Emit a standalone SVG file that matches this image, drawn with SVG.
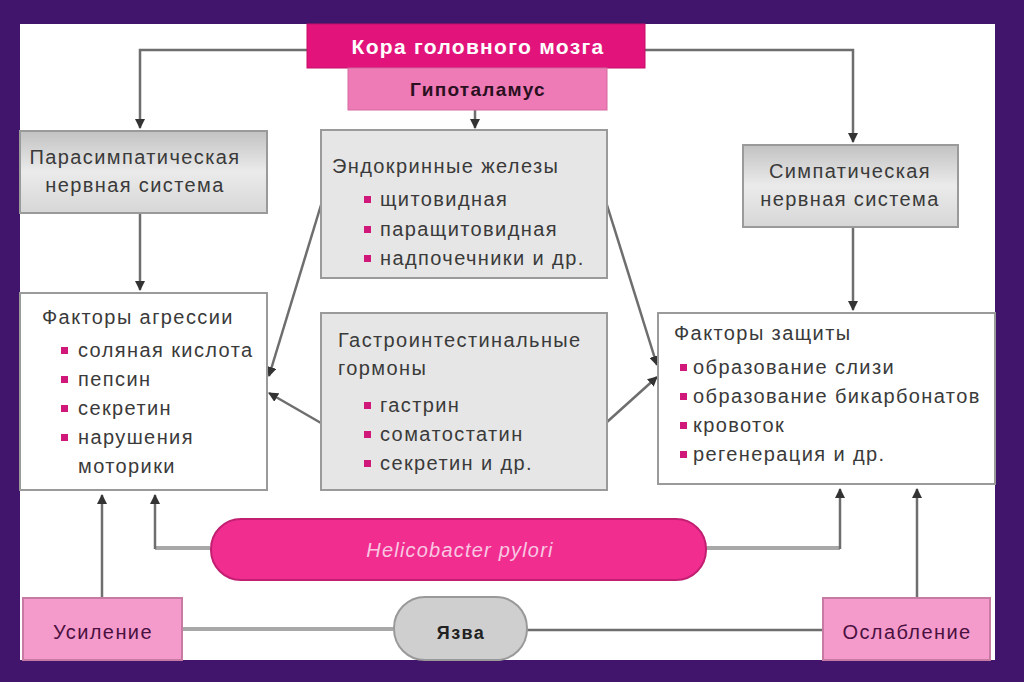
<svg xmlns="http://www.w3.org/2000/svg" width="1024" height="682" viewBox="0 0 1024 682">
<defs>
<style>
.t{font-family:"Liberation Sans",Arial,sans-serif;font-size:20px;letter-spacing:1.4px;fill:#3a3a3a}
.c{text-anchor:middle}
.bul{fill:#d0177a}
.box{stroke:#9a9a9a;stroke-width:2}
.ln{fill:none;stroke:#6e6e6e;stroke-width:2.5}
.lg{fill:none;stroke:#a8a8a8;stroke-width:4}
</style>
<linearGradient id="gr" x1="0" y1="0" x2="0" y2="1">
<stop offset="0" stop-color="#c2c2c2"/>
<stop offset="0.5" stop-color="#ebebeb"/>
<stop offset="1" stop-color="#d6d6d6"/>
</linearGradient>
<marker id="ar" viewBox="0 0 10 10" refX="9" refY="5" markerWidth="4" markerHeight="4" orient="auto-start-reverse">
<path d="M0,0 L10,5 L0,10 z" fill="#333"/>
</marker>
</defs>
<rect x="0" y="0" width="1024" height="682" fill="#42156c"/>
<rect x="20" y="24" width="975" height="636" fill="#ffffff"/>

<g id="connectors">
<path class="ln" d="M307,50 H140 V128" marker-end="url(#ar)"/>
<path class="ln" d="M645,50 H853 V142" marker-end="url(#ar)"/>
<path class="ln" d="M475,110 V128" marker-end="url(#ar)"/>
<path class="ln" d="M140,213 V290" marker-end="url(#ar)"/>
<path class="ln" d="M853,227 V310" marker-end="url(#ar)"/>
<path class="ln" d="M321,205 L269,376" marker-end="url(#ar)"/>
<path class="ln" d="M607,205 L657,365" marker-end="url(#ar)"/>
<path class="ln" d="M321,423 L269,393" marker-end="url(#ar)"/>
<path class="ln" d="M607,422 L657,377" marker-end="url(#ar)"/>
<path class="lg" d="M210,548 H155"/>
<path class="ln" d="M155,549 V495" marker-end="url(#ar)"/>
<path class="lg" d="M706,548 H840"/>
<path class="ln" d="M840,549 V489" marker-end="url(#ar)"/>
<path class="ln" d="M102,598 V495" marker-end="url(#ar)"/>
<path class="ln" d="M917,598 V489" marker-end="url(#ar)"/>
<path class="lg" d="M182,629 H393"/>
<path class="ln" d="M527,630 H823"/>
</g>

<g id="kora">
<rect x="307" y="24" width="338" height="44" fill="#e2147c" stroke="#c40f68" stroke-width="1"/>
<text class="t c" x="478" y="54" style="fill:#fff;font-weight:bold;font-size:21px;letter-spacing:1.3px">Кора головного мозга</text>
</g>
<g id="gipotalamus">
<rect x="348" y="68" width="259" height="42" fill="#ee7ab6" stroke="#d66aa0" stroke-width="1"/>
<text class="t c" x="478" y="96" style="fill:#2a1020;font-weight:bold;font-size:19px;letter-spacing:1.3px">Гипоталамус</text>
</g>

<g id="parasymp">
<rect class="box" x="20" y="131" width="247" height="82" fill="url(#gr)"/>
<text class="t c" x="135" y="164">Парасимпатическая</text>
<text class="t c" x="135" y="192">нервная система</text>
</g>

<g id="endocrine">
<rect class="box" x="321" y="130" width="286" height="148" fill="#e6e6e6"/>
<text class="t" x="332" y="173">Эндокринные железы</text>
<rect class="bul" x="364" y="196" width="7" height="7"/>
<text class="t" x="380" y="206">щитовидная</text>
<rect class="bul" x="364" y="226" width="7" height="7"/>
<text class="t" x="380" y="236">паращитовидная</text>
<rect class="bul" x="364" y="255" width="7" height="7"/>
<text class="t" x="380" y="265">надпочечники и др.</text>
</g>

<g id="symp">
<rect class="box" x="743" y="145" width="215" height="82" fill="url(#gr)"/>
<text class="t c" x="850" y="178">Симпатическая</text>
<text class="t c" x="850" y="206">нервная система</text>
</g>

<g id="agressia">
<rect class="box" x="20" y="293" width="247" height="197" fill="#ffffff"/>
<text class="t" x="42" y="324">Факторы агрессии</text>
<rect class="bul" x="61" y="347" width="7" height="7"/>
<text class="t" x="78" y="357">соляная кислота</text>
<rect class="bul" x="61" y="376" width="7" height="7"/>
<text class="t" x="78" y="386">пепсин</text>
<rect class="bul" x="61" y="405" width="7" height="7"/>
<text class="t" x="78" y="415">секретин</text>
<rect class="bul" x="61" y="434" width="7" height="7"/>
<text class="t" x="78" y="444">нарушения</text>
<text class="t" x="78" y="473">моторики</text>
</g>

<g id="gastro">
<rect class="box" x="321" y="313" width="286" height="177" fill="#e6e6e6"/>
<text class="t" x="338" y="347">Гастроинтестинальные</text>
<text class="t" x="338" y="375">гормоны</text>
<rect class="bul" x="364" y="402" width="7" height="7"/>
<text class="t" x="380" y="412">гастрин</text>
<rect class="bul" x="364" y="431" width="7" height="7"/>
<text class="t" x="380" y="441">соматостатин</text>
<rect class="bul" x="364" y="460" width="7" height="7"/>
<text class="t" x="380" y="470">секретин и др.</text>
</g>

<g id="zashita">
<rect class="box" x="658" y="313" width="337" height="171" fill="#ffffff"/>
<text class="t" x="674" y="340">Факторы защиты</text>
<rect class="bul" x="680" y="364" width="7" height="7"/>
<text class="t" x="693" y="374">образование слизи</text>
<rect class="bul" x="680" y="393" width="7" height="7"/>
<text class="t" x="693" y="403">образование бикарбонатов</text>
<rect class="bul" x="680" y="422" width="7" height="7"/>
<text class="t" x="693" y="432">кровоток</text>
<rect class="bul" x="680" y="451" width="7" height="7"/>
<text class="t" x="693" y="461">регенерация и др.</text>
</g>

<g id="helicobacter">
<rect x="211" y="519" width="495" height="61" rx="30" ry="30" fill="#f22d90" stroke="#c21f72" stroke-width="2"/>
<text class="t c" x="460" y="557" style="fill:#f8c8e2;font-style:italic;font-size:20px;letter-spacing:1.2px">Helicobacter pylori</text>
</g>

<g id="usilenie">
<rect x="23" y="598" width="159" height="62" fill="#f59bcb" stroke="#c77aa3" stroke-width="2"/>
<text class="t c" x="103" y="639" style="fill:#4a1040">Усиление</text>
</g>

<g id="yazva">
<rect x="394" y="597" width="133" height="63" rx="31" ry="31" fill="#cfcfcf" stroke="#999" stroke-width="2"/>
<text class="t c" x="461" y="639" style="fill:#222;font-weight:bold;font-size:18px">Язва</text>
</g>

<g id="oslablenie">
<rect x="823" y="598" width="167" height="62" fill="#f59bcb" stroke="#c77aa3" stroke-width="2"/>
<text class="t c" x="907" y="639" style="fill:#4a1040">Ослабление</text>
</g>
</svg>
